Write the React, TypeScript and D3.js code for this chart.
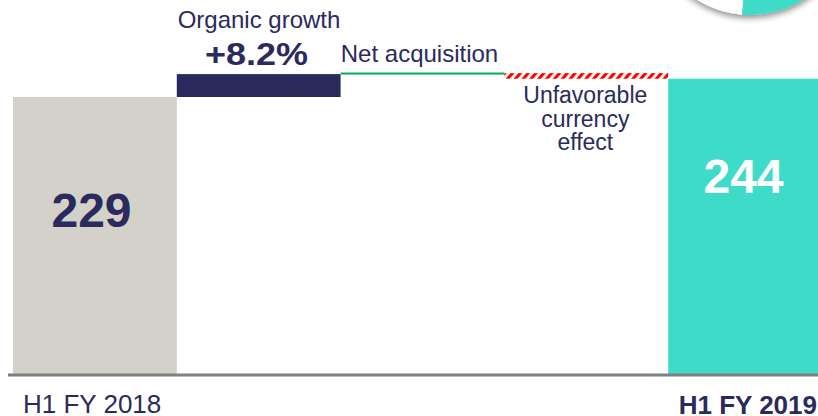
import React from "react";
import * as d3 from "d3";

const categories = ["H1 FY 2018", "Organic growth", "Net acquisition", "Unfavorable currency effect", "H1 FY 2019"];
const stepValues = [229, 18.8, 0.8, -4.6, 244];
const stepKinds = ["total", "delta", "delta", "delta", "total"];
const valueLabels = ["229", "+8.2%", "", "", "244"];
const currencyLines = ["Unfavorable", "currency", "effect"];
const pieShares = [0.42, 0.58];

const W = 818;
const H = 416;
const NAVY = "#2b2a5c";
const FONT = "'Liberation Sans', Arial, Helvetica, sans-serif";

export default function App() {
  const x = d3.scaleBand<string>().domain(categories).range([13, 832]).padding(0);
  const y = d3.scaleLinear().domain([0, 229]).range([376, 97]);

  let running = 0;
  const steps = categories.map((c, i) => {
    let y0: number, y1: number;
    if (stepKinds[i] === "total") {
      y0 = 0;
      y1 = stepValues[i];
      running = stepValues[i];
    } else {
      y0 = running;
      y1 = running + stepValues[i];
      running = y1;
    }
    return { c, i, lo: Math.min(y0, y1), hi: Math.max(y0, y1) };
  });

  const fills = ["#d4d0ca", NAVY, "#00b050", "url(#hatch)", "#3ddbc8"];

  const arc = d3.arc<any>().innerRadius(0).outerRadius(101);
  const pieArcs = d3
    .pie<number>()
    .sort(null)
    .startAngle(Math.PI + 0.08 - 2 * Math.PI * pieShares[0])
    .endAngle(Math.PI + 0.08 + 2 * Math.PI * pieShares[1])(pieShares);

  const cx = (c: string) => x(c)! + x.bandwidth() / 2;

  return (
    <svg width={W} height={H} style={{ position: "absolute", left: 0, top: 0, background: "#fff" }} fontFamily={FONT}>
      <defs>
        <pattern id="hatch" width="6" height="6" patternUnits="userSpaceOnUse" patternTransform="rotate(40)">
          <rect width="6" height="6" fill="#ffffff" />
          <rect width="3.2" height="6" fill="#ff0000" />
        </pattern>
        <filter id="shadow" x="-30%" y="-30%" width="160%" height="160%">
          <feDropShadow dx="0" dy="3" stdDeviation="3" floodColor="#000" floodOpacity="0.45" />
        </filter>
      </defs>

      <g transform="translate(750,-86)" filter="url(#shadow)">
        {pieArcs.map((a, k) => (
          <path key={k} d={arc(a) as string} fill={k === 0 ? "#3ddbc8" : "#ffffff"} />
        ))}
      </g>

      {steps.map((s) => {
        const top = y(s.hi);
        let h = y(s.lo) - y(s.hi);
        let t = top;
        if (s.i === 2) {
          t = top - 0.6;
          h = Math.max(h, 2);
        }
        return <rect key={s.c} x={x(s.c)!} y={t} width={x.bandwidth()} height={h} fill={fills[s.i]} />;
      })}

      <line x1={8} x2={818} y1={375} y2={375} stroke="#808080" strokeWidth={3} />

      <text x={91.5} y={227} textAnchor="middle" fontSize={48} fontWeight="bold" fill={NAVY}>{valueLabels[0]}</text>
      <text x={743.5} y={193} textAnchor="middle" fontSize={48} fontWeight="bold" fill="#ffffff">{valueLabels[4]}</text>

      <text x={259} y={28} textAnchor="middle" fontSize={24} fill={NAVY}>{categories[1]}</text>
      <text x={205} y={65} fontSize={31} fontWeight="bold" fill={NAVY} textLength={103} lengthAdjust="spacingAndGlyphs">{valueLabels[1]}</text>
      <text x={419.5} y={62} textAnchor="middle" fontSize={24} fill={NAVY}>{categories[2]}</text>
      <text textAnchor="middle" fontSize={23} fill={NAVY}>
        {currencyLines.map((l, k) => (
          <tspan key={k} x={cx(categories[3]) - 1} y={103 + k * 23.5}>{l}</tspan>
        ))}
      </text>

      <text x={23} y={413} fontSize={26} fill={NAVY}>{categories[0]}</text>
      <text x={817} y={414} textAnchor="end" fontSize={26} fontWeight="bold" fill={NAVY}>{categories[4]}</text>
    </svg>
  );
}
